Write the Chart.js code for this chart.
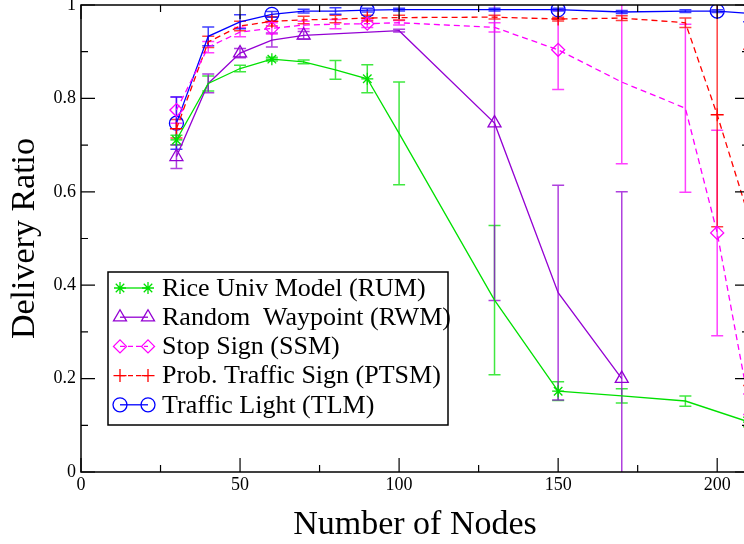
<!DOCTYPE html>
<html>
<head>
<meta charset="utf-8">
<script src="https://cdn.jsdelivr.net/npm/chart.js@4.4.1/dist/chart.umd.min.js"></script>
<style>
  html, body { margin: 0; padding: 0; background: #fff; overflow: hidden; }
  /* the plot runs a few px past the right edge of the window, as in the cropped original */
  #wrap { width: 749px; height: 544px; }
</style>
</head>
<body>
<div id="wrap"><canvas id="deliveryChart"></canvas></div>
<script>
// values
const rumX = [30, 40, 50, 60, 70, 80, 90, 100, 130, 150, 170, 190, 210];
const rumY = [0.711, 0.832, 0.864, 0.884, 0.878, 0.861, 0.842, 0.725, 0.368, 0.173, 0.163, 0.152, 0.107];
const rumErr = [0.01, 0.016, 0.007, 0.004, 0.004, 0.02, 0.03, 0.11, 0.16, 0.02, 0.015, 0.011, 0.01];

const rwmX = [30, 40, 50, 60, 70, 100, 130, 150, 170];
const rwmY = [0.675, 0.832, 0.897, 0.925, 0.935, 0.945, 0.747, 0.384, 0.2];
const rwmErr = [0.025, 0.02, 0.01, 0.015, 0.008, 0.003, 0.38, 0.23, 0.4];

const ssmX = [30, 40, 50, 60, 70, 80, 90, 100, 130, 150, 170, 190, 200, 210];
const ssmY = [0.775, 0.91, 0.942, 0.95, 0.957, 0.959, 0.96, 0.962, 0.952, 0.904, 0.835, 0.779, 0.512, 0.145];
const ssmErr = [0.028, 0.012, 0.01, 0.012, 0.008, 0.01, 0.008, 0.005, 0.01, 0.085, 0.175, 0.18, 0.22, 0.022];

const ptsmX = [30, 40, 50, 60, 70, 80, 90, 100, 130, 150, 170, 190, 200, 210];
const ptsmY = [0.735, 0.921, 0.955, 0.965, 0.968, 0.97, 0.972, 0.973, 0.974, 0.97, 0.972, 0.962, 0.765, 0.545];
const ptsmErr = [0.02, 0.012, 0.01, 0.01, 0.008, 0.008, 0.006, 0.005, 0.004, 0.004, 0.005, 0.01, 0.24, 0.36];

const tlmX = [30, 40, 50, 60, 70, 80, 90, 100, 130, 150, 170, 190, 200, 210];
const tlmY = [0.747, 0.933, 0.964, 0.98, 0.987, 0.987, 0.989, 0.99, 0.99, 0.99, 0.985, 0.987, 0.987, 0.982];
const tlmErr = [0.056, 0.02, 0.015, 0.006, 0.004, 0.007, 0.004, 0.003, 0.003, 0.003, 0.003, 0.003, 0.003, 0.018];

const xTicks = [0, 50, 100, 150, 200];
const yTicks = [0, 0.2, 0.4, 0.6, 0.8, 1];

const SERIF = "'Liberation Serif', 'DejaVu Serif', serif";

function pts(xs, ys) {
  return xs.map((x, i) => ({ x, y: ys[i] }));
}

// symbol only on every n-th point, like the original plot
function every(xs, n, r) {
  return xs.map((_, i) => (i % n === 0 ? r : 0));
}

function makeSet(label, xs, ys, err, color, style, r, skip, dash) {
  return {
    label,
    data: pts(xs, ys),
    err,
    borderColor: color,
    borderWidth: 1.3,
    borderDash: dash,
    pointStyle: style,
    pointRadius: every(xs, skip, r),
    pointBorderColor: color,
    pointBackgroundColor: "rgba(0,0,0,0)",
    pointBorderWidth: 1.3,
    tension: 0,
    fill: false
  };
}

const datasets = [
  makeSet("Rice Univ Model (RUM)", rumX, rumY, rumErr, "#00e000", "star", 6, 3, []),
  makeSet("Random  Waypoint (RWM)", rwmX, rwmY, rwmErr, "#9400d3", "triangle", 7.5, 2, []),
  makeSet("Stop Sign (SSM)", ssmX, ssmY, ssmErr, "#ff00ff", "rectRot", 6.5, 3, [6, 4]),
  makeSet("Prob. Traffic Sign (PTSM)", ptsmX, ptsmY, ptsmErr, "#ff0000", "cross", 6.5, 3, [6, 4]),
  makeSet("Traffic Light (TLM)", tlmX, tlmY, tlmErr, "#0000ff", "circle", 7, 3, [])
];

const errorBars = {
  id: "errorBars",
  beforeDatasetsDraw(chart) {
    const { ctx, chartArea: a, scales: { x, y } } = chart;
    ctx.save();
    ctx.beginPath();
    ctx.rect(a.left, a.top, a.right - a.left, a.bottom - a.top);
    ctx.clip();
    chart.data.datasets.forEach(ds => {
      ctx.strokeStyle = ds.borderColor;
      ctx.globalAlpha = 0.75;
      ctx.lineWidth = 1.5;
      ds.data.forEach((p, i) => {
        const e = ds.err[i];
        const px = x.getPixelForValue(p.x);
        const top = y.getPixelForValue(p.y + e);
        const bot = y.getPixelForValue(p.y - e);
        ctx.beginPath();
        ctx.moveTo(px, top); ctx.lineTo(px, bot);
        ctx.moveTo(px - 6, top); ctx.lineTo(px + 6, top);
        ctx.moveTo(px - 6, bot); ctx.lineTo(px + 6, bot);
        ctx.stroke();
      });
    });
    ctx.restore();
  }
};

// frame with inward ticks on all four sides (right side falls just off the window)
const frame = {
  id: "frame",
  afterDatasetsDraw(chart) {
    const { ctx, chartArea: a, scales: { x, y } } = chart;
    ctx.save();
    ctx.strokeStyle = "#000";
    ctx.lineWidth = 1.5;
    ctx.strokeRect(a.left, a.top, a.right - a.left, a.bottom - a.top);
    ctx.lineWidth = 1.2;
    ctx.beginPath();
    for (let v = 0; v <= 200; v += 25) {
      const px = x.getPixelForValue(v);
      const len = v % 50 === 0 ? 14 : 7;
      ctx.moveTo(px, a.bottom); ctx.lineTo(px, a.bottom - len);
      ctx.moveTo(px, a.top); ctx.lineTo(px, a.top + len);
    }
    for (let k = 0; k <= 10; k++) {
      const py = y.getPixelForValue(k / 10);
      const len = k % 2 === 0 ? 14 : 7;
      ctx.moveTo(a.left, py); ctx.lineTo(a.left + len, py);
      ctx.moveTo(a.right, py); ctx.lineTo(a.right - len, py);
    }
    ctx.stroke();
    ctx.restore();
  }
};

function drawMark(ctx, ds, cx, cy) {
  const r = Math.max(...ds.pointRadius);
  if (Chart.helpers && Chart.helpers.drawPoint) {
    Chart.helpers.drawPoint(ctx, {
      pointStyle: ds.pointStyle, radius: r, rotation: 0, borderWidth: ds.pointBorderWidth
    }, cx, cy);
  }
}

const boxLegend = {
  id: "boxLegend",
  afterDraw(chart) {
    const { ctx } = chart;
    const left = 108, top = 272, right = 448, bottom = 425;
    ctx.save();
    ctx.fillStyle = "#fff";
    ctx.fillRect(left, top, right - left, bottom - top);
    ctx.strokeStyle = "#000";
    ctx.lineWidth = 1.5;
    ctx.strokeRect(left, top, right - left, bottom - top);
    ctx.font = "26px " + SERIF;
    ctx.textBaseline = "middle";
    chart.data.datasets.forEach((ds, i) => {
      const cy = 288 + i * 29.2;
      ctx.strokeStyle = ds.borderColor;
      ctx.lineWidth = 1.3;
      ctx.setLineDash(ds.borderDash.length ? [5, 3] : []);
      ctx.beginPath();
      ctx.moveTo(120, cy); ctx.lineTo(148, cy);
      ctx.stroke();
      ctx.setLineDash([]);
      ctx.fillStyle = "rgba(0,0,0,0)";
      drawMark(ctx, ds, 120, cy);
      drawMark(ctx, ds, 148, cy);
      ctx.fillStyle = "#000";
      ctx.fillText(ds.label, 162, cy + 1);
    });
    ctx.restore();
  }
};

new Chart(document.getElementById("deliveryChart"), {
  type: "line",
  data: { datasets },
  options: {
    responsive: true,
    maintainAspectRatio: false,
    animation: false,
    events: [],
    layout: { autoPadding: false, padding: { top: 5, right: 0, left: 0, bottom: 0 } },
    plugins: {
      legend: { display: false },
      tooltip: { enabled: false }
    },
    scales: {
      x: {
        type: "linear",
        min: 0,
        max: 210,
        afterFit(s) { s.height = 72; s.paddingLeft = 0; s.paddingRight = 0; },
        afterBuildTicks(s) { s.ticks = xTicks.map(v => ({ value: v })); },
        grid: { display: false, drawTicks: false },
        border: { display: false },
        ticks: {
          padding: 2,
          color: "#000",
          maxRotation: 0,
          font: { family: SERIF, size: 18 },
          callback: v => String(v)
        },
        title: {
          display: true,
          text: "Number of Nodes",
          color: "#000",
          font: { family: SERIF, size: 34, lineHeight: 1 },
          padding: { top: 0, bottom: 2 }
        }
      },
      y: {
        min: 0,
        max: 1,
        afterFit(s) { s.width = 81; s.paddingTop = 0; s.paddingBottom = 0; },
        afterBuildTicks(s) { s.ticks = yTicks.map(v => ({ value: v })); },
        grid: { display: false, drawTicks: false },
        border: { display: false },
        ticks: {
          padding: 5,
          color: "#000",
          font: { family: SERIF, size: 18 },
          callback: v => String(v)
        },
        title: {
          display: true,
          text: "Delivery Ratio",
          color: "#000",
          font: { family: SERIF, size: 34, lineHeight: 1 },
          padding: { top: 8, bottom: 0 }
        }
      }
    }
  },
  plugins: [errorBars, frame, boxLegend]
});
</script>
</body>
</html>
